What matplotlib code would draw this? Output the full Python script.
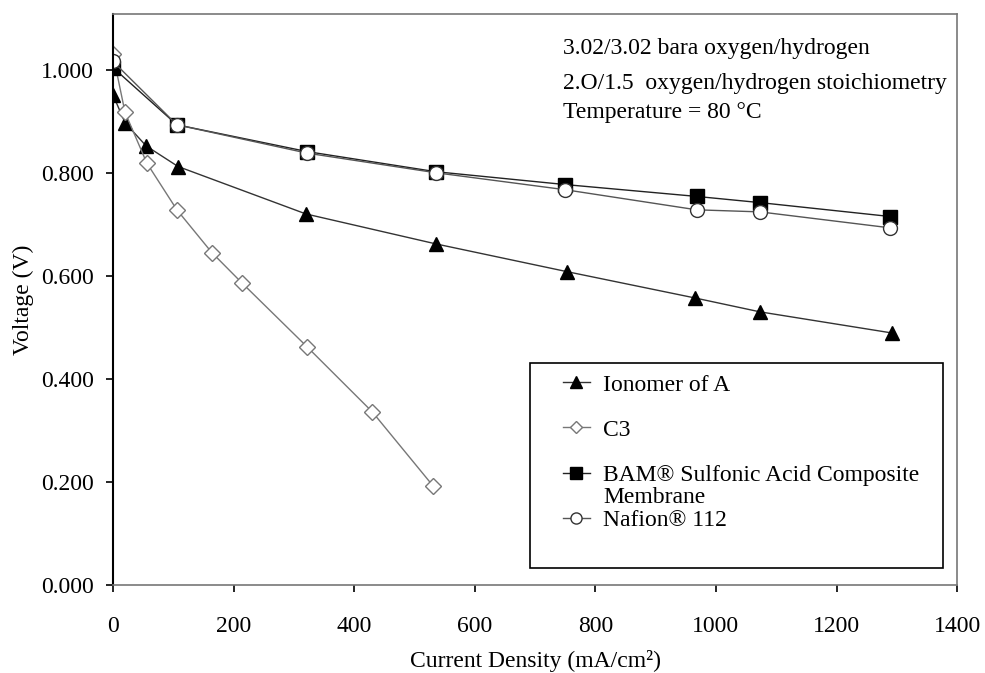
import matplotlib
matplotlib.use("Agg")
import matplotlib.pyplot as plt
from matplotlib.patches import Rectangle

plt.rcParams['font.family'] = ['Liberation Serif', 'DejaVu Serif']

# Ionomer of A
x_ion = [0, 20, 55, 108, 320, 535, 753, 965, 1073, 1292]
v_ion = [0.951, 0.897, 0.852, 0.812, 0.720, 0.662, 0.608, 0.557, 0.530, 0.489]

# C3
x_c3 = [0, 20, 56, 106, 164, 214, 322, 430, 531]
v_c3 = [1.03, 0.917, 0.819, 0.728, 0.645, 0.586, 0.462, 0.336, 0.192]

# BAM composite membrane
x_bam = [0, 106, 322, 535, 750, 968, 1073, 1289]
v_bam = [1.004, 0.893, 0.841, 0.802, 0.777, 0.754, 0.742, 0.715]

# Nafion 112
x_naf = [0, 106, 322, 535, 750, 968, 1073, 1289]
v_naf = [1.016, 0.893, 0.838, 0.800, 0.767, 0.728, 0.724, 0.693]

yticks = [0, 0.2, 0.4, 0.6, 0.8, 1.0]
notes = ['3.02/3.02 bara oxygen/hydrogen',
         '2.O/1.5  oxygen/hydrogen stoichiometry',
         'Temperature = 80 °C']

fig = plt.figure(figsize=(9.85, 6.73), dpi=100)
ax = fig.add_axes([0.1147, 0.1308, 0.857, 0.8484])

ax.plot(x_ion, v_ion, color='#333333', lw=1, marker='^', ms=10,
        mfc='black', mec='black', label='Ionomer of A')
ax.plot(x_c3, v_c3, color='#777777', lw=1, marker='D', ms=8,
        mfc='white', mec='#777777', label='C3')
ax.plot(x_bam, v_bam, color='#222222', lw=1, marker='s', ms=10,
        mfc='black', mec='black', label='BAM® Sulfonic Acid Composite')
ax.plot(x_naf, v_naf, color='#555555', lw=1, marker='o', ms=10,
        mfc='white', mec='#333333', label='Nafion® 112')

ax.set_xlim(0, 1400)
ax.set_ylim(0, 1.108)
ax.set_xticks(range(0, 1401, 200))
ax.set_yticks(yticks)
ax.set_yticklabels(['%.3f' % t for t in yticks])
ax.tick_params(axis='both', direction='out', labelsize=17, length=5, width=1.2)
ax.tick_params(axis='x', pad=17)
ax.tick_params(axis='y', pad=9)

ax.spines['left'].set_linewidth(1.5)
ax.spines['left'].set_color('black')
for s in ['top', 'right', 'bottom']:
    ax.spines[s].set_color('#777777')
    ax.spines[s].set_linewidth(1.2)

ax.set_xlabel('Current Density (mA/cm²)', fontsize=17, labelpad=10)
ax.set_ylabel('Voltage (V)', fontsize=17, labelpad=5)

for ypos, txt in zip([0.939, 0.879, 0.828], notes):
    ax.text(0.533, ypos, txt, transform=ax.transAxes, fontsize=17, va='center')

# legend box
ax.add_patch(Rectangle((0.494, 0.030), 0.489, 0.359, transform=ax.transAxes,
                       fill=False, edgecolor='black', lw=1.2, zorder=5))
leg = ax.legend(loc='upper left', bbox_to_anchor=(0.533, 0.3695),
                fontsize=17, frameon=False, labelspacing=1.0,
                handlelength=1.15, handletextpad=0.55, borderpad=0,
                borderaxespad=0, markerscale=0.8)
# second line of the BAM label, drawn after the legend
ax.annotate('Membrane', xy=(0, 0), xycoords=leg.get_texts()[2],
            xytext=(0, -1), textcoords='offset points', va='top',
            fontsize=17, zorder=10)

fig.savefig('out.png', dpi=100)
